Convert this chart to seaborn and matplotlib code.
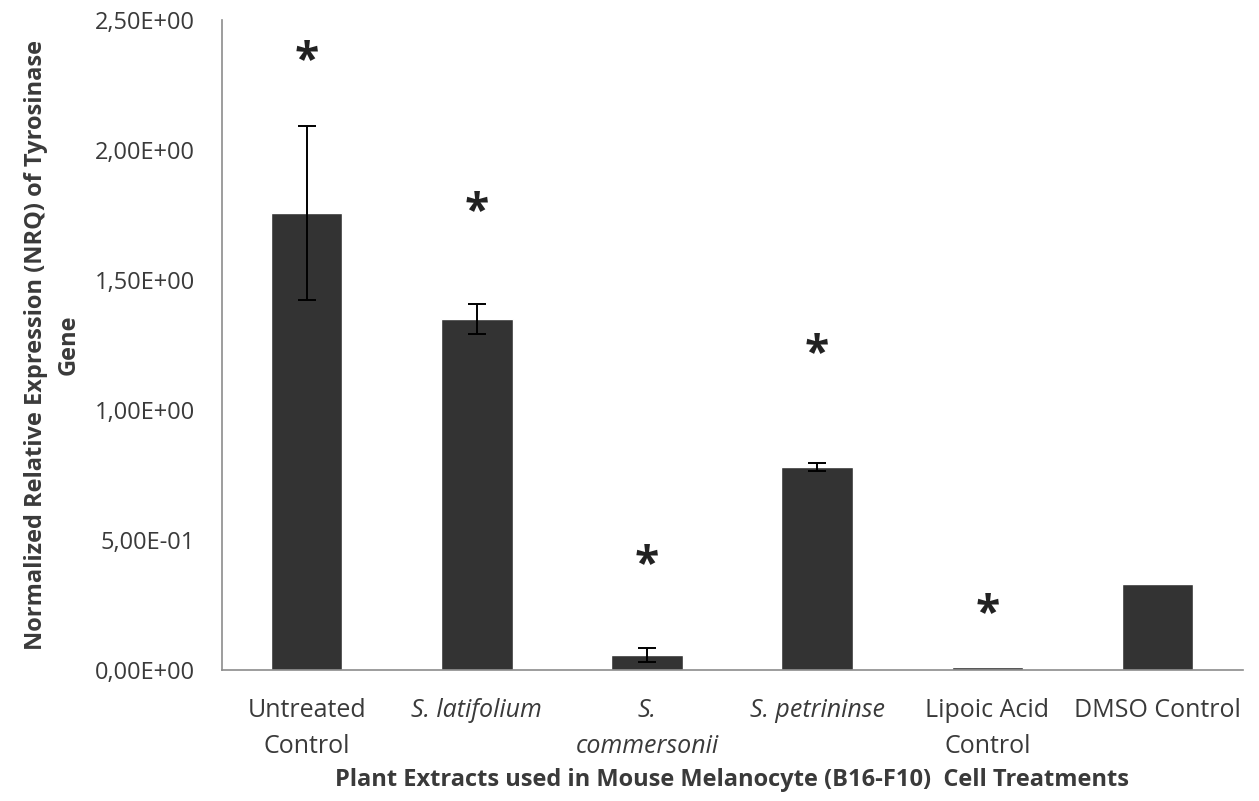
import numpy as np
import pandas as pd
import seaborn as sns
import matplotlib.pyplot as plt
from matplotlib.ticker import FuncFormatter

# Data
treatments = ["Untreated\nControl", "S. latifolium", "S.\ncommersonii",
              "S. petrininse", "Lipoic Acid\nControl", "DMSO Control"]
nrq = [1.758, 1.350, 0.058, 0.780, 0.010, 0.330]
nrq_err = [0.335, 0.058, 0.026, 0.016, 0.0, 0.0]
significant = [True, True, True, True, True, False]
star_y = [2.34, 1.76, 0.40, 1.215, 0.215, 0.0]
italic_labels = [False, True, True, True, False, False]

df = pd.DataFrame({"Treatment": treatments, "NRQ": nrq})

sns.set_style("white")
plt.rcParams["font.family"] = ["Open Sans", "DejaVu Sans"]

text_color = "#3a3a3a"
axis_color = "#8c8c8c"

fig, ax = plt.subplots(figsize=(12.59, 8.01), dpi=100)
fig.subplots_adjust(left=0.176, right=0.987, bottom=0.1635, top=0.975)

sns.barplot(data=df, x="Treatment", y="NRQ", color="#333333",
            width=0.42, saturation=1, ax=ax)

x_pos = np.arange(len(treatments))
has_err = np.array(nrq_err) > 0
ax.errorbar(x_pos[has_err], np.array(nrq)[has_err],
            yerr=np.array(nrq_err)[has_err], fmt="none",
            ecolor="black", elinewidth=1.4, capsize=6.5, capthick=1.4)

# significance marks
for x, y, sig in zip(x_pos, star_y, significant):
    if sig:
        ax.text(x, y, "*", ha="center", va="center", fontsize=32,
                color="#222222", fontweight="bold")

ax.set_xlim(-0.5, len(treatments) - 0.5)
ax.set_ylim(0, 2.5)
ax.set_yticks(np.arange(0, 2.51, 0.5))
ax.yaxis.set_major_formatter(
    FuncFormatter(lambda v, p: f"{v:.2E}".replace(".", ",")))

sns.despine(ax=ax)
for side in ["left", "bottom"]:
    ax.spines[side].set_color(axis_color)
    ax.spines[side].set_linewidth(1.2)

ax.tick_params(axis="y", length=7, color=axis_color, labelsize=17,
               labelcolor=text_color, pad=12, width=1.2)
ax.tick_params(axis="x", length=0, labelsize=18, labelcolor=text_color,
               pad=20)
for lab, it in zip(ax.get_xticklabels(), italic_labels):
    lab.set_linespacing(1.6)
    if it:
        lab.set_style("italic")

ax.set_xlabel("Plant Extracts used in Mouse Melanocyte (B16-F10)  Cell Treatments",
              fontsize=17, fontweight="bold", color=text_color, labelpad=6)
ax.set_ylabel("Normalized Relative Expression (NRQ) of Tyrosinase\nGene",
              fontsize=17, fontweight="bold", color=text_color, labelpad=10,
              linespacing=1.5)

fig.savefig("out.png", dpi=100)
